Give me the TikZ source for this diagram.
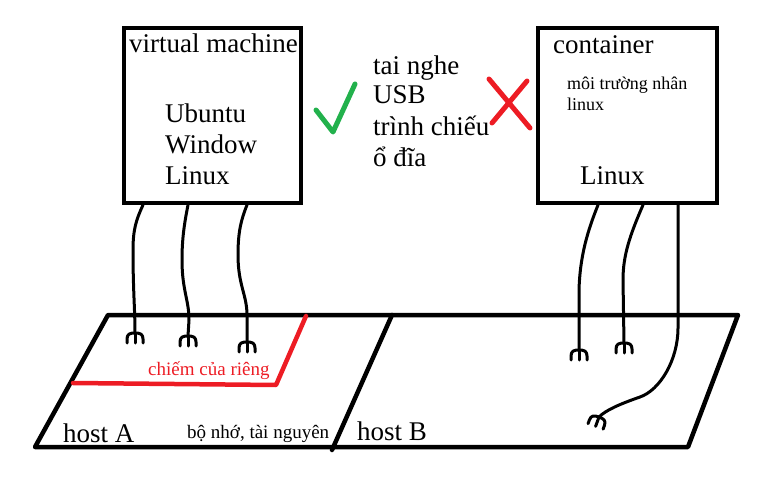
\documentclass[tikz,border=0pt]{standalone}
\usepackage{fontspec}
\setmainfont{Liberation Serif}
\definecolor{pred}{HTML}{ED1C24}
\definecolor{pgreen}{HTML}{22B14C}
\begin{document}
\begin{tikzpicture}[x=1bp,y=-1bp,
  box/.style={draw, line width=4.5bp, inner sep=0pt},
  big/.style={font=\fontsize{27bp}{31bp}\selectfont, anchor=base west, inner sep=0pt},
  small/.style={font=\fontsize{19bp}{21bp}\selectfont, anchor=base west, inner sep=0pt},
  wire/.style={line width=3bp, line cap=round, line join=round},
  plat/.style={line width=4.5bp, line cap=round, line join=round},
  signstroke/.style={line width=5bp, line cap=round, line join=round},
  claw/.pic={\draw[wire] (-8,10) -- (-8,6) .. controls (-8,1) and (-5,0) .. (0,0) .. controls (5,0) and (8,1) .. (8,6) -- (8,10);
             \draw[wire] (0,0) -- (0,10);}]
\useasboundingbox (0,0) rectangle (769,484);

% boxes
\node[box, minimum width=177bp, minimum height=175bp] (vm) at (212.5,115.5) {};
\node[box, minimum width=179bp, minimum height=175bp] (ct) at (627.5,115.5) {};

% box texts
\node[big] (vmt) at (129,53) {virtual machine};
\node[big] (ub) at (165,123) {Ubuntu};
\node[big] (wi) at (165,154) {Window};
\node[big] (li) at (165,185) {Linux};
\node[big] (ctt) at (553,54) {container};
\node[small, font=\fontsize{18bp}{21bp}\selectfont] (env1) at (567,90) {môi trường nhân};
\node[small, font=\fontsize{18bp}{21bp}\selectfont] (env2) at (567,111) {linux};
\node[big] (cli) at (580,185) {Linux};

% middle list
\node[big] (m1) at (373,75) {tai nghe};
\node[big] (m2) at (373,104) {USB};
\node[big] (m3) at (373,136) {trình chiếu};
\node[big] (m4) at (373,167) {ổ đĩa};

% check and cross
\draw[signstroke, pgreen] (316,110) -- (333,132) -- (355,84);
\draw[signstroke, pred] (489,79) -- (530,128);
\draw[signstroke, pred] (527,81) -- (492,123);

% platform
\coordinate (pa) at (108,315);
\coordinate (pb) at (738,315);
\coordinate (pc) at (688,447);
\coordinate (pd) at (35,447);
\coordinate (da) at (392,315);
\coordinate (db) at (332,450);
\draw[plat] (pa) -- (pb) -- (pc) -- (pd) -- cycle;
\draw[plat] (da) -- (db);

% red private region
\coordinate (r1) at (73,383);
\coordinate (r2) at (276,385);
\coordinate (r3) at (306,316);
\draw[plat, pred] (r1) -- (r2) -- (r3);
\node[small, text=pred] (priv) at (148,375) {chiếm của riêng};

% platform labels
\node[big] (ha) at (63,442) {host A};
\node[small] (mem) at (187,438) {bộ nhớ, tài nguyên};
\node[big] (hb) at (357,440) {host B};

% wire anchors
\coordinate (v1) at (143,205);
\coordinate (v2) at (188,205);
\coordinate (v3) at (247,205);
\coordinate (c1) at (598,205);
\coordinate (c2) at (643,205);
\coordinate (c3) at (678,205);
\coordinate (k1) at (135,333);
\coordinate (k2) at (188,336);
\coordinate (k3) at (247,342);
\coordinate (k4) at (579,350);
\coordinate (k5) at (624,343);
\coordinate (k6) at (599,417);

% wires
\draw[wire] (v1) .. controls (136,220) and (133,230) .. (133,250) .. controls (133,290) and (135,310) .. (k1);
\draw[wire] (v2) .. controls (184,225) and (182,240) .. (182,260) .. controls (182,290) and (189,300) .. (189,320) -- (k2);
\draw[wire] (v3) .. controls (241,220) and (238,232) .. (238,255) .. controls (238,285) and (247,295) .. (247,315) -- (k3);
\draw[wire] (c1) .. controls (588,230) and (580,255) .. (579,290) -- (k4);
\draw[wire] (c2) .. controls (630,235) and (623,255) .. (623,280) -- (k5);
\draw[wire] (c3) -- (678,328) .. controls (678,360) and (660,390) .. (640,397) .. controls (620,404) and (606,410) .. (k6);

% claws
\pic at (k1) {claw};
\pic at (k2) {claw};
\pic at (k3) {claw};
\pic at (k4) {claw};
\pic at (k5) {claw};
\pic[rotate=-20] at (k6) {claw};
\end{tikzpicture}
\end{document}
